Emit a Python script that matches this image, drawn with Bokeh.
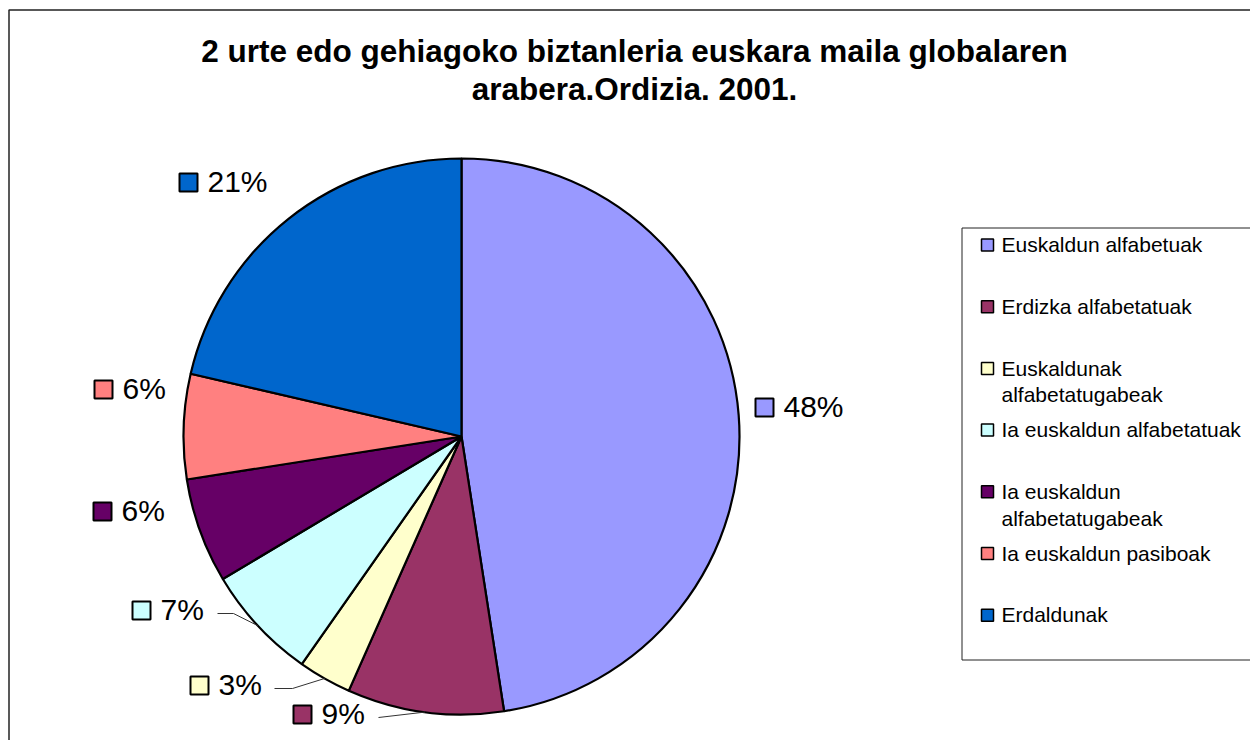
import math
import textwrap
from bokeh.plotting import figure
from bokeh.models import Range1d, ColumnDataSource
from bokeh.core.properties import value
from bokeh.embed import file_html
from bokeh.resources import INLINE

# ---------------- data ----------------
title_lines = ["2 urte edo gehiagoko biztanleria euskara maila globalaren",
               "arabera.Ordizia. 2001."]
categories = ["Euskaldun alfabetuak", "Erdizka alfabetatuak",
              "Euskaldunak alfabetatugabeak", "Ia euskaldun alfabetatuak",
              "Ia euskaldun alfabetatugabeak", "Ia euskaldun pasiboak",
              "Erdaldunak"]
shares = [47.6, 9.1, 3.1, 6.7, 6.1, 6.1, 21.4]
colors = ["#9999FF", "#993366", "#FFFFCC", "#CCFFFF", "#660066", "#FF8080", "#0066CC"]

# ---------------- layout (screen pixels) ----------------
W, H = 1250, 740
def SY(y):
    return H - y

def BL(y, fs):
    # baseline correction for text placement
    return SY(y - 0.37 * fs)

CX, CY, R = 461, SY(436), 278
FONT = "Liberation Sans"
TITLE_FS, PCT_FS, LEG_FS = 31.5, 30, 21
# centres of the little squares of the percentage labels
label_sq = [(764, 407), (302, 714), (199, 685), (141, 610), (102, 511), (103, 389), (188, 182)]
# leader line elbows (screen) for the labels that have them
leaders = {1: [(378, 717)], 2: [(274, 688), (292, 688)], 3: [(217, 613), (233, 613)]}

p = figure(width=W, height=H, output_backend="svg", toolbar_location=None,
           x_range=Range1d(0, W), y_range=Range1d(0, H),
           x_axis_type=None, y_axis_type=None, min_border=0)
p.grid.visible = False
p.outline_line_color = None
p.background_fill_color = "white"

# outer frame (left & top visible)
p.line([8.5, 8.5, 1300], [SY(800), SY(9.5), SY(9.5)], line_color="#222222", line_width=1.5)

# title
for i, t in enumerate(title_lines):
    p.text(x=[634], y=[BL(62 + 38 * i, TITLE_FS)], text=[t], text_font=value(FONT),
           text_font_size=value(f"{TITLE_FS}px"), text_font_style="bold",
           text_align="center", text_baseline="alphabetic", text_color="black")

# pie
total = sum(shares)
starts, ends, mids = [], [], []
cum = 0.0
for v in shares:
    a0 = math.pi / 2 - 2 * math.pi * cum / total
    cum += v
    a1 = math.pi / 2 - 2 * math.pi * cum / total
    starts.append(a0)
    ends.append(a1)
    mids.append((a0 + a1) / 2)

src = ColumnDataSource(dict(start=starts, end=ends, color=colors, cat=categories))
p.wedge(x=CX, y=CY, radius=R, start_angle="start", end_angle="end",
        direction="clock", fill_color="color", line_color="black", line_width=2.2, source=src)

# leader lines
for i, pts in leaders.items():
    ex = CX + R * math.cos(mids[i])
    ey = CY + R * math.sin(mids[i])
    xs = [q[0] for q in pts] + [ex]
    ys = [SY(q[1]) for q in pts] + [ey]
    p.line(xs, ys, line_color="#333333", line_width=1)

# percentage labels
pct = [f"{round(v / total * 100)}%" for v in shares]
p.scatter(x=[q[0] for q in label_sq], y=[SY(q[1]) for q in label_sq], marker="square",
          size=18, fill_color=colors, line_color="black", line_width=2)
p.text(x=[q[0] + 19 for q in label_sq], y=[BL(q[1] + 10, PCT_FS) for q in label_sq], text=pct,
       text_font=value(FONT), text_font_size=value(f"{PCT_FS}px"), text_align="left",
       text_baseline="alphabetic", text_color="black")

# legend
p.quad(left=[961.5], right=[1300], top=[SY(227.5)], bottom=[SY(659.5)],
       fill_color="white", line_color="#222222", line_width=1)
step = 61.7
for i, (cat, col) in enumerate(zip(categories, colors)):
    base = 252 + step * i
    p.scatter(x=[987], y=[SY(base - 7.5)], marker="square", size=12,
              fill_color=col, line_color="black", line_width=1.5)
    for j, ln in enumerate(textwrap.wrap(cat, width=26)):
        p.text(x=[1001], y=[BL(base + 26.7 * j, LEG_FS)], text=[ln], text_font=value(FONT),
               text_font_size=value(f"{LEG_FS}px"), text_align="left",
               text_baseline="alphabetic", text_color="black")

open("out.html", "w").write(file_html(p, INLINE))
